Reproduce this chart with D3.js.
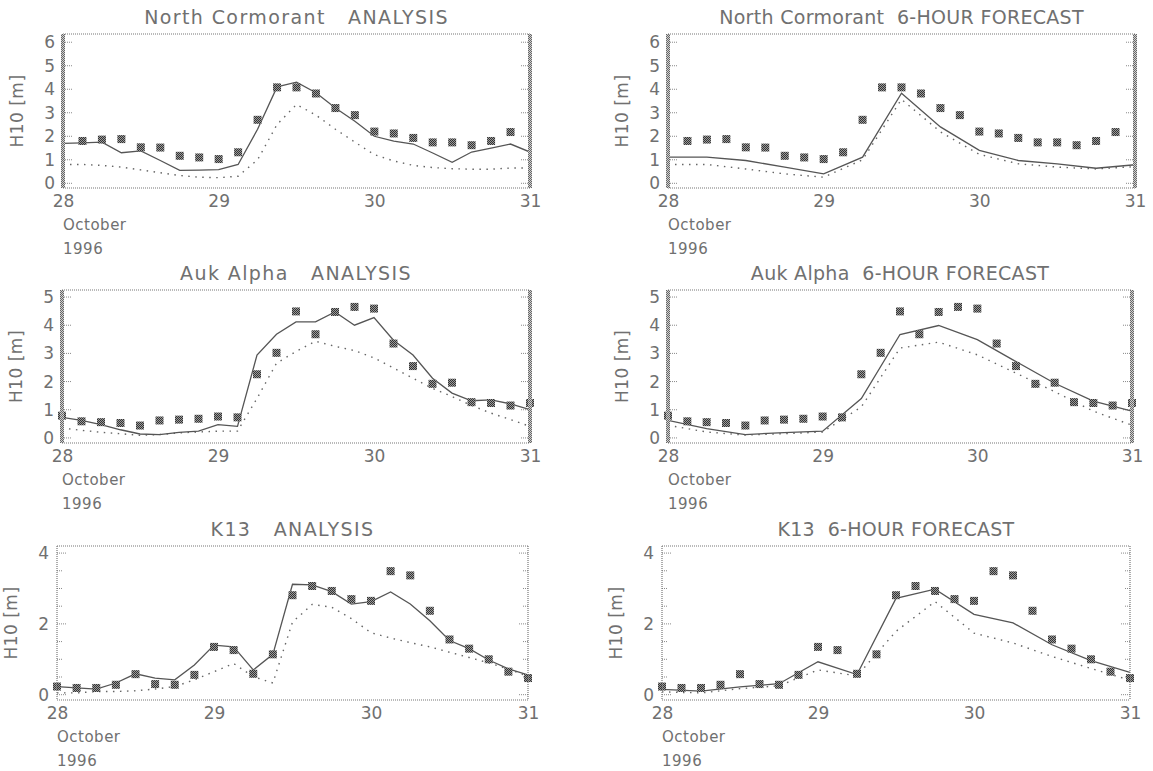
<!DOCTYPE html>
<html><head><meta charset="utf-8">
<script src="https://cdn.jsdelivr.net/npm/d3@7"></script>
<style>
html,body{margin:0;padding:0;background:#fff;}
svg text{font-family:"DejaVu Sans",sans-serif;fill:#707070;white-space:pre;}
</style></head>
<body><svg id="c" width="1153" height="771"></svg>
<script>
// ---------------- data ----------------
const dayTicks = [28, 29, 30, 31];
const hours3 = [0,3,6,9,12,15,18,21,24,27,30,33,36,39,42,45,48,51,54,57,60,63,66,69,72];
const hours6 = [0,6,12,18,24,30,36,42,48,54,60,66,72];
const ncObsHours = [3,6,9,12,15,18,21,24,27,30,33,36,39,42,45,48,51,54,57,60,63,66,69];

const ncObs = [1.8,1.86,1.88,1.53,1.52,1.17,1.1,1.03,1.32,2.7,4.08,4.08,3.82,3.2,2.9,2.2,2.12,1.93,1.74,1.74,1.62,1.8,2.18];
const ncAnaSolid = [1.7,1.72,1.75,1.3,1.38,0.97,0.55,0.56,0.58,0.8,2.3,4.1,4.3,3.85,3.2,2.64,2.0,1.79,1.67,1.29,0.89,1.33,1.5,1.67,1.33];
const ncAnaDot = [0.8,0.8,0.76,0.69,0.57,0.45,0.33,0.26,0.24,0.3,1.0,2.5,3.35,2.9,2.3,1.75,1.22,0.95,0.76,0.67,0.62,0.6,0.6,0.65,0.65];
const ncFcSolid = [1.11,1.11,0.97,0.69,0.4,1.11,3.83,2.4,1.4,0.97,0.83,0.64,0.79];
const ncFcDot = [0.8,0.8,0.61,0.4,0.26,1.0,3.57,2.19,1.23,0.83,0.69,0.61,0.71];

const aukObs = [0.79,0.59,0.56,0.53,0.44,0.62,0.65,0.68,0.76,0.73,2.26,3.02,4.49,3.68,4.47,4.65,4.59,3.35,2.55,1.92,1.96,1.27,1.24,1.15,1.24];
const aukAnaSolid = [0.73,0.62,0.47,0.29,0.14,0.12,0.2,0.24,0.47,0.41,2.94,3.68,4.12,4.12,4.47,4.0,4.27,3.47,2.94,2.12,1.59,1.32,1.35,1.21,1.0];
const aukAnaDot = [0.35,0.27,0.2,0.15,0.09,0.12,0.18,0.21,0.24,0.24,1.4,2.65,3.07,3.43,3.25,3.1,2.84,2.48,2.12,1.76,1.47,1.15,0.88,0.65,0.41];
const aukFcSolid = [0.62,0.33,0.12,0.19,0.24,1.4,3.67,3.99,3.49,2.71,1.94,1.31,0.95];
const aukFcDot = [0.45,0.21,0.1,0.15,0.21,1.1,3.19,3.4,2.95,2.3,1.64,0.95,0.45];

const k13Obs = [0.23,0.19,0.19,0.28,0.58,0.3,0.28,0.56,1.35,1.26,0.59,1.14,2.81,3.07,2.93,2.7,2.65,3.49,3.37,2.37,1.56,1.3,1.0,0.65,0.47];
const k13AnaSolid = [0.23,0.19,0.16,0.33,0.59,0.47,0.42,0.84,1.4,1.35,0.7,1.14,3.12,3.1,2.91,2.56,2.63,2.9,2.56,2.09,1.53,1.3,0.98,0.73,0.56];
const k13AnaDot = [0.05,0.05,0.09,0.09,0.11,0.16,0.23,0.42,0.65,0.88,0.51,0.33,2.05,2.55,2.47,2.15,1.75,1.6,1.47,1.35,1.2,1.05,0.9,0.72,0.52];
const k13FcSolid = [0.15,0.1,0.22,0.31,0.93,0.57,2.72,2.98,2.27,2.03,1.41,0.96,0.63];
const k13FcDot = [0.08,0.05,0.17,0.25,0.7,0.53,1.79,2.63,1.74,1.46,1.08,0.74,0.41];

const ncYTicks = [0,1,2,3,4,5,6];
const aukYTicks = [0,1,2,3,4,5];
const k13YTicks = [0,2,4];
const k13YMinor = [0,0.5,1,1.5,2,2.5,3,3.5,4];

const titles = ["North Cormorant   ANALYSIS","North Cormorant  6-HOUR FORECAST",
                "Auk Alpha   ANALYSIS","Auk Alpha  6-HOUR FORECAST",
                "K13   ANALYSIS","K13  6-HOUR FORECAST"];
const yTitle = "H10 [m]";
const monthLabel = "October";
const yearLabel = "1996";

// ---------------- layout ----------------
const frames = [
  {l:63, r:530, t:34, b:188}, {l:668, r:1135, t:34, b:188},
  {l:62, r:530, t:290, b:443}, {l:668, r:1132, t:290, b:443},
  {l:57, r:528, t:546, b:700}, {l:662, r:1130, t:546, b:700}
];
const titleSpacing = [1.4, 0.3, 1.4, 0.3, 1.4, 0.3];
const panels = [
  {obsH:ncObsHours, obs:ncObs, solidH:hours3, solid:ncAnaSolid, dotH:hours3, dot:ncAnaDot, yd:[-0.2,6.35], yt:ncYTicks, ym:ncYTicks, thick:true},
  {obsH:ncObsHours, obs:ncObs, solidH:hours6, solid:ncFcSolid, dotH:hours6, dot:ncFcDot, yd:[-0.2,6.35], yt:ncYTicks, ym:ncYTicks, thick:true},
  {obsH:hours3, obs:aukObs, solidH:hours3, solid:aukAnaSolid, dotH:hours3, dot:aukAnaDot, yd:[-0.18,5.25], yt:aukYTicks, ym:aukYTicks, thick:true},
  {obsH:hours3, obs:aukObs, solidH:hours6, solid:aukFcSolid, dotH:hours6, dot:aukFcDot, yd:[-0.18,5.25], yt:aukYTicks, ym:aukYTicks, thick:true},
  {obsH:hours3, obs:k13Obs, solidH:hours3, solid:k13AnaSolid, dotH:hours3, dot:k13AnaDot, yd:[-0.15,4.2], yt:k13YTicks, ym:k13YMinor, thick:false},
  {obsH:hours3, obs:k13Obs, solidH:hours6, solid:k13FcSolid, dotH:hours6, dot:k13FcDot, yd:[-0.15,4.2], yt:k13YTicks, ym:k13YMinor, thick:false}
];

const svg = d3.select("#c");
const defs = svg.append("defs");
function checker(id, light, dark){
  const pat = defs.append("pattern").attr("id",id).attr("width",2).attr("height",2).attr("patternUnits","userSpaceOnUse");
  pat.append("rect").attr("width",2).attr("height",2).attr("fill",light);
  pat.append("rect").attr("width",1).attr("height",1).attr("fill",dark);
  pat.append("rect").attr("x",1).attr("y",1).attr("width",1).attr("height",1).attr("fill",dark);
}
checker("chk","#9a9a9a","#333");
checker("brd","#d0d0d0","#666");

panels.forEach((p, i) => {
  const f = frames[i];
  const g = svg.append("g");
  const x = d3.scaleLinear().domain([28*24, 31*24]).range([f.l, f.r]);
  const y = d3.scaleLinear().domain(p.yd).range([f.b, f.t]);
  const hx = h => x(28*24 + h);

  defs.append("clipPath").attr("id","cp"+i).append("rect")
    .attr("x",f.l).attr("y",f.t).attr("width",f.r-f.l).attr("height",f.b-f.t);

  // title
  g.append("text").attr("x",(f.l+f.r)/2).attr("y",f.t-10).attr("text-anchor","middle")
    .attr("font-size",19).attr("letter-spacing",titleSpacing[i]).text(titles[i]);

  // axes via d3 axes
  const xAxis = d3.axisBottom(x).tickValues(dayTicks.map(d=>d*24)).tickFormat(d=>d/24).tickSize(0).tickPadding(7);
  const gx = g.append("g").attr("transform",`translate(0,${f.b})`).call(xAxis);
  gx.select(".domain").remove();
  gx.selectAll("text").attr("font-size",17).attr("fill","#707070").style("font-family","DejaVu Sans");

  const yAxis = d3.axisLeft(y).tickValues(p.yt).tickFormat(d3.format("d")).tickSize(0).tickPadding(8);
  const gy = g.append("g").attr("transform",`translate(${f.l},0)`).call(yAxis);
  gy.select(".domain").remove();
  gy.selectAll("text").attr("font-size",17).attr("fill","#707070").style("font-family","DejaVu Sans");

  // inner ticks
  const tk = g.append("g").attr("stroke","#888").attr("stroke-width",1).attr("stroke-dasharray","1,1");
  p.ym.forEach(v => {
    const major = p.yt.includes(v);
    const len = major ? 9 : 5;
    tk.append("line").attr("x1",f.l).attr("x2",f.l+len).attr("y1",y(v)).attr("y2",y(v));
    tk.append("line").attr("x1",f.r).attr("x2",f.r-len).attr("y1",y(v)).attr("y2",y(v));
  });

  // labels
  g.append("text").attr("x",f.l).attr("y",f.b+42).attr("font-size",15).attr("letter-spacing",0.5).text(monthLabel);
  g.append("text").attr("x",f.l).attr("y",f.b+66).attr("font-size",15).attr("letter-spacing",0.5).text(yearLabel);
  g.append("text").attr("transform",`translate(${f.l-40},${(f.t+f.b)/2}) rotate(-90)`)
    .attr("text-anchor","middle").attr("font-size",17).attr("letter-spacing",0.5).text(yTitle);

  // lines
  const line = d3.line().x(d=>hx(d[0])).y(d=>y(d[1]));
  const plot = g.append("g").attr("clip-path",`url(#cp${i})`);
  plot.append("path").datum(p.dotH.map((h,k)=>[h,p.dot[k]]))
    .attr("d",line).attr("fill","none").attr("stroke","#666").attr("stroke-width",1.4)
    .attr("stroke-dasharray","1.5,5.5");
  plot.append("path").datum(p.solidH.map((h,k)=>[h,p.solid[k]]))
    .attr("d",line).attr("fill","none").attr("stroke","#555").attr("stroke-width",1.3);

  // observation squares
  const s = 8;
  g.append("g").selectAll("rect").data(p.obsH.map((h,k)=>[h,p.obs[k]])).join("rect")
    .attr("x",d=>hx(d[0])-s/2).attr("y",d=>y(d[1])-s/2).attr("width",s).attr("height",s)
    .attr("fill","url(#chk)");

  // frame
  const fr = g.append("g").attr("fill","none");
  fr.append("line").attr("x1",f.l).attr("x2",f.r).attr("y1",f.t).attr("y2",f.t)
    .attr("stroke","#777").attr("stroke-width",1.2).attr("stroke-dasharray","1,1");
  fr.append("line").attr("x1",f.l).attr("x2",f.r).attr("y1",f.b).attr("y2",f.b)
    .attr("stroke","#777").attr("stroke-width",1.2).attr("stroke-dasharray","1,1");
  const sw = p.thick ? 4 : 1.2;
  [f.l, f.r].forEach(xx => {
    fr.append("line").attr("x1",xx).attr("x2",xx).attr("y1",f.t).attr("y2",f.b)
      .attr("stroke", p.thick ? "url(#brd)" : "#777").attr("stroke-width",sw)
      .attr("stroke-dasharray", p.thick ? null : "1,1");
  });
});
</script></body></html>
